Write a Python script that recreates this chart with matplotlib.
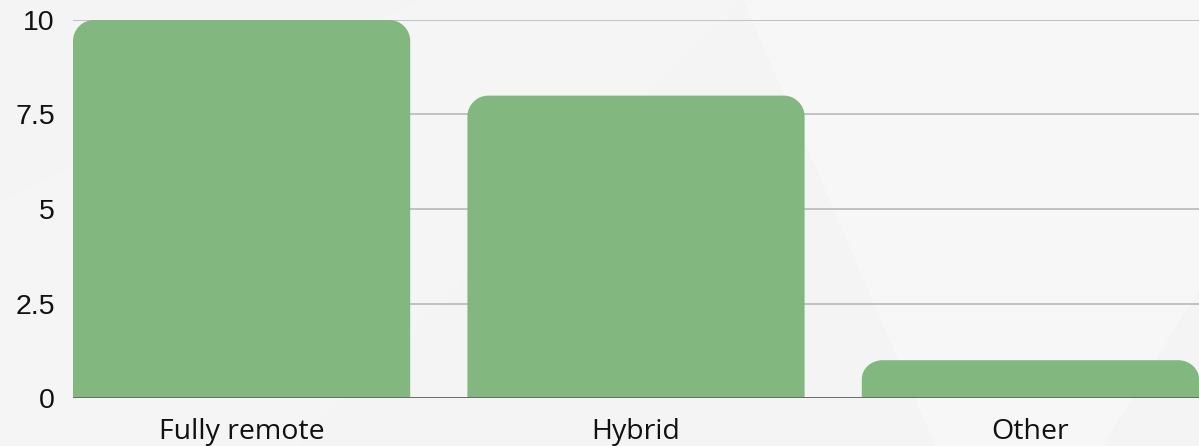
import matplotlib
matplotlib.use("Agg")
import matplotlib.pyplot as plt
from matplotlib.path import Path
from matplotlib.patches import PathPatch, Polygon

categories = ["Fully remote", "Hybrid", "Other"]
values = [10, 8, 1]
yticks = [0, 2.5, 5, 7.5, 10]
ytick_labels = ["0", "2.5", "5", "7.5", "10"]

bar_color = "#82b77f"
bg = "#f4f4f4"

W, H = 1199, 446
fig = plt.figure(figsize=(W / 100, H / 100), dpi=100)
fig.patch.set_facecolor(bg)

# faint decorative background shapes
for pts, c in [
    ([(0.0, 0.0), (0.0, 0.55), (0.35, 1.0), (0.62, 1.0), (0.25, 0.0)], "#f5f5f5"),
    ([(0.62, 1.0), (1.0, 1.0), (1.0, 0.35), (0.92, 0.0), (0.78, 0.0)], "#f7f7f7"),
]:
    fig.add_artist(Polygon(pts, closed=True, transform=fig.transFigure,
                           facecolor=c, edgecolor="none", zorder=0))

left, right = 73 / W, 1199 / W
top, bottom = 1 - 20 / H, 1 - 398 / H
ax = fig.add_axes([left, bottom, right - left, top - bottom])
ax.set_facecolor("none")

bar_w = 0.855
x = list(range(len(categories)))
ax.set_xlim(-bar_w / 2, len(categories) - 1 + bar_w / 2)
ax.set_ylim(0, 10)

# pixel scales
ax_w_px = (right - left) * W
ax_h_px = (top - bottom) * H
xr = ax.get_xlim()
yr = ax.get_ylim()
px_x = ax_w_px / (xr[1] - xr[0])
px_y = ax_h_px / (yr[1] - yr[0])
r_px = 21

for xi, v in zip(x, values):
    x0, x1 = xi - bar_w / 2, xi + bar_w / 2
    rx = r_px / px_x
    ry = min(r_px / px_y, v / 2)
    k = 0.5523
    verts = [
        (x0, 0), (x0, v - ry),
        (x0, v - ry + k * ry), (x0 + rx - k * rx, v), (x0 + rx, v),
        (x1 - rx, v),
        (x1 - rx + k * rx, v), (x1, v - ry + k * ry), (x1, v - ry),
        (x1, 0), (x0, 0),
    ]
    codes = [Path.MOVETO, Path.LINETO,
             Path.CURVE4, Path.CURVE4, Path.CURVE4,
             Path.LINETO,
             Path.CURVE4, Path.CURVE4, Path.CURVE4,
             Path.LINETO, Path.CLOSEPOLY]
    ax.add_patch(PathPatch(Path(verts, codes), facecolor=bar_color,
                           edgecolor="none", zorder=3))

for t in yticks[1:]:
    ax.axhline(t, color="#b8b8b8", lw=1.2, zorder=1)
ax.axhline(0, color="#6a6a6a", lw=1.4, zorder=4)

for s in ax.spines.values():
    s.set_visible(False)

ax.set_yticks(yticks)
ax.set_yticklabels(ytick_labels, family="Liberation Sans", fontsize=20.5, color="#111111")
ax.set_xticks(x)
ax.set_xticklabels(categories, family="Open Sans", fontsize=20.5, color="#111111")
ax.tick_params(axis="y", length=0, pad=13)
ax.tick_params(axis="x", length=0, pad=14.5)

fig.savefig("out.png", dpi=100, facecolor=bg)
